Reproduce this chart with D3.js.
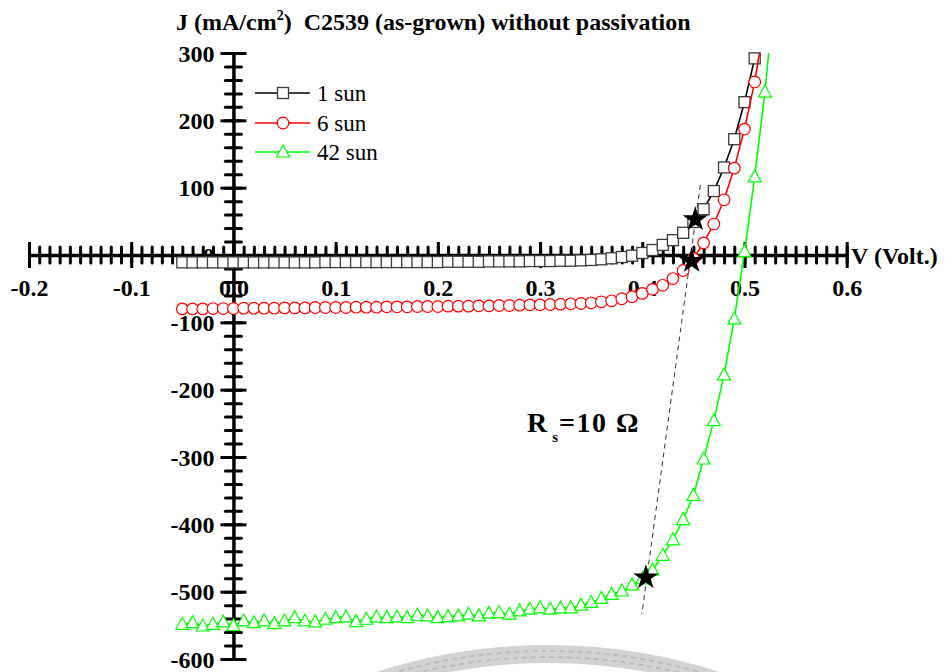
<!DOCTYPE html>
<html>
<head>
<meta charset="utf-8">
<script src="https://cdn.jsdelivr.net/npm/d3@7/dist/d3.min.js"></script>
<style>
  html, body { margin: 0; padding: 0; background: #fff; }
  svg { display: block; }
  text { font-family: "Liberation Serif", "Times New Roman", serif; }
</style>
</head>
<body>
<svg id="chart" width="945" height="672"></svg>
<script>
// ---------------- data ----------------
const vGrid = [-0.05,-0.04,-0.03,-0.02,-0.01,0.00,0.01,0.02,0.03,0.04,0.05,0.06,0.07,0.08,0.09,0.10,
  0.11,0.12,0.13,0.14,0.15,0.16,0.17,0.18,0.19,0.20,0.21,0.22,0.23,0.24,0.25,0.26,0.27,0.28,0.29,0.30,
  0.31,0.32,0.33,0.34,0.35,0.36,0.37,0.38,0.39,0.40,0.41,0.42,0.43,0.44,0.45,0.46,0.47,0.48,0.49,0.50,
  0.51,0.52,0.53];

const jOneSun = [-11,-11,-11,-11,-11,-11,-11,-11,-11,-11,-11,-11,-11,-11,-10.5,-10.5,
  -10.5,-10.5,-10.5,-10.5,-10.5,-10.5,-10.5,-10.5,-10.5,-10.5,-10,-10,-10,-10,-9.5,-9.5,-9.5,-9.5,-9,-9,
  -9,-8.5,-8.5,-8,-7.4,-6.4,-4.9,-3,-1,3,7.4,15,22,33,49,68,95,130,172,227,
  292,380];

const jSixSun = [-80,-80,-80,-79.5,-79.5,-79.5,-79,-79,-79,-79,-78.5,-78.5,-78.5,-78,-78,-78,
  -78,-77.5,-77.5,-77.5,-77,-77,-77,-76.5,-76.5,-76.5,-76,-76,-76,-75.5,-75.5,-75,-75,-74.5,-74,-74,
  -73.5,-73,-72.5,-72,-71,-69.5,-68,-65,-62,-57,-51,-45,-35,-23,-5,18,46,82,129,187,
  257,350];

const jFortyTwoSun = [-548.5,-546,-551,-548.5,-545,-550.5,-543.5,-546,-543.5,-547.5,-543.5,-538.5,-543.5,-545,-541,-538.5,
  -537.5,-544.5,-541,-537.5,-538.5,-537.5,-538.5,-535,-536,-538.5,-537,-536,-533.5,-536,-532,-531,-533.5,-528.5,-526,-524,
  -526,-524,-524,-520,-516,-510,-504,-499,-490,-481,-468,-446,-423,-393,-357,-303,-246,-178,-95,5,
  116,242,400];

const seriesNames = ["1 sun", "6 sun", "42 sun"];
const seriesColors = ["#000000", "#ff0000", "#00ff00"];
const markerStroke = ["#3a3a3a", "#ff0000", "#00ff00"];
const markerShapes = ["square", "circle", "triangle"];

const starV = [0.4519, 0.4483, 0.4035];
const starJ = [53, -9, -479];
const rsLineV = [0.4568, 0.3996];
const rsLineJ = [104, -533];

const xMajorTicks = [-0.2,-0.1,0.0,0.1,0.2,0.3,0.4,0.5,0.6];
const yMajorTicks = [300,200,100,0,-100,-200,-300,-400,-500,-600];

// ---------------- scales ----------------
const svg = d3.select("#chart");
const x = d3.scaleLinear().domain([-0.2, 0.6]).range([29, 846.7]);
const y = d3.scaleLinear().domain([-600, 300]).range([659, 53]);
const FONT = "'Liberation Serif','Times New Roman',serif";

// ---------------- watermark (seal, faint) ----------------
const wm = svg.append("g").attr("opacity", 0.5);
wm.append("path")
  .attr("d", d3.arc().innerRadius(543).outerRadius(561).startAngle(-0.32).endAngle(0.32)())
  .attr("transform", "translate(548,1206)")
  .attr("fill", "#a9a9a9");
wm.append("path")
  .attr("d", d3.arc().innerRadius(549).outerRadius(555).startAngle(-0.32).endAngle(0.32)())
  .attr("transform", "translate(548,1206)")
  .attr("fill", "none").attr("stroke", "#7d7d7d").attr("stroke-width", 2)
  .attr("stroke-dasharray", "5,4");

// ---------------- axes ----------------
const fmtX = d => d.toFixed(1);
const fmtY = d => String(d);
const axX = svg.append("g").attr("transform", `translate(0,${y(0)})`);
axX.append("g").call(d3.axisBottom(x).tickValues(d3.range(-20, 61).map(i => i / 100)).tickSize(8).tickSizeOuter(0).tickFormat(""))
  .call(g => g.select(".domain").remove())
  .call(g => g.selectAll(".tick line").attr("y1", -8).attr("stroke-width", 3).attr("stroke-linecap", "round"));
axX.append("g").call(d3.axisBottom(x).tickValues(xMajorTicks).tickSize(13).tickSizeOuter(0).tickFormat(fmtX))
  .call(g => g.select(".domain").attr("stroke-width", 3.5))
  .call(g => g.selectAll(".tick line").attr("y1", -13).attr("stroke-width", 3))
  .call(g => g.selectAll(".tick text").attr("y", 41).attr("dy", null)
      .attr("font-size", 24).attr("font-weight", "bold")
      .attr("font-family", FONT).attr("fill", "#000"));

const axY = svg.append("g").attr("transform", `translate(${x(0)},0)`);
axY.append("g").call(d3.axisLeft(y).tickValues(d3.range(-600, 301, 20)).tickSize(8).tickSizeOuter(0).tickFormat(""))
  .call(g => g.select(".domain").remove())
  .call(g => g.selectAll(".tick line").attr("x1", 8).attr("stroke-width", 3).attr("stroke-linecap", "round"));
axY.append("g").call(d3.axisLeft(y).tickValues(yMajorTicks).tickSize(13).tickSizeOuter(0).tickFormat(fmtY))
  .call(g => g.select(".domain").attr("stroke-width", 3.5))
  .call(g => g.selectAll(".tick line").attr("x1", 13).attr("stroke-width", 3))
  .call(g => g.selectAll(".tick text").attr("x", -19).attr("dy", "0.34em")
      .attr("font-size", 24).attr("font-weight", "bold")
      .attr("font-family", FONT).attr("fill", "#000"));

// axis titles
const title = svg.append("text").attr("x", 176).attr("y", 30)
  .attr("font-size", 24).attr("font-weight", "bold").attr("fill", "#000")
  .style("white-space", "pre");
title.append("tspan").text("J (mA/cm");
title.append("tspan").attr("font-size", 14).attr("dy", -10).text("2");
title.append("tspan").attr("dy", 10).text(")  C2539 (as-grown) without passivation");

svg.append("text").attr("x", 851).attr("y", y(0) + 9)
  .attr("font-size", 24).attr("font-weight", "bold").attr("fill", "#000")
  .text("V (Volt.)");

// ---------------- series ----------------
svg.append("defs").append("clipPath").attr("id", "plotClip")
  .append("rect").attr("x", 0).attr("y", y(300)).attr("width", 945).attr("height", 672 - y(300));

const allJ = [jOneSun, jSixSun, jFortyTwoSun];
const line = d3.line().x(d => x(d[0])).y(d => y(d[1]));

function drawMarker(g, shape, cx, cy, stroke) {
  if (shape === "square") {
    g.append("rect").attr("x", cx - 5.5).attr("y", cy - 5.5).attr("width", 11).attr("height", 11)
      .attr("fill", "#fff").attr("stroke", stroke).attr("stroke-width", 1.3);
  } else if (shape === "circle") {
    g.append("circle").attr("cx", cx).attr("cy", cy).attr("r", 5.8)
      .attr("fill", "#fff").attr("stroke", stroke).attr("stroke-width", 1.2);
  } else {
    g.append("path").attr("d", `M${cx},${cy - 7} L${cx + 6.5},${cy + 5} L${cx - 6.5},${cy + 5} Z`)
      .attr("fill", "#fff").attr("stroke", stroke).attr("stroke-width", 1.2);
  }
}

allJ.forEach((js, i) => {
  const pts = js.map((j, k) => [vGrid[k], j]);
  const g = svg.append("g");
  g.append("path").attr("d", line(pts)).attr("fill", "none")
    .attr("stroke", seriesColors[i]).attr("stroke-width", 1.6)
    .attr("clip-path", "url(#plotClip)");
  pts.filter(p => p[1] <= 300).forEach(p => drawMarker(g, markerShapes[i], x(p[0]), y(p[1]), markerStroke[i]));
});

// Rs guide line
svg.append("line")
  .attr("x1", x(rsLineV[0])).attr("y1", y(rsLineJ[0]))
  .attr("x2", x(rsLineV[1])).attr("y2", y(rsLineJ[1]))
  .attr("stroke", "#333").attr("stroke-width", 1).attr("stroke-dasharray", "5,4");

// stars
starV.forEach((v, i) => {
  svg.append("path").attr("d", d3.symbol().type(d3.symbolStar).size(200)())
    .attr("transform", `translate(${x(v)},${y(starJ[i])})`).attr("fill", "#000");
});

// Rs label
const rs = svg.append("text").attr("x", 527).attr("y", 432)
  .attr("font-size", 28).attr("font-weight", "bold").attr("fill", "#000")
  .style("white-space", "pre");
rs.append("tspan").text("R");
rs.append("tspan").attr("font-size", 15).attr("dx", 5).attr("dy", 10).text("s");
rs.append("tspan").attr("dx", 1).attr("dy", -10).attr("letter-spacing", 1.5).text("=10 Ω");

// ---------------- legend ----------------
const legY = [93, 123, 152];
seriesNames.forEach((name, i) => {
  const g = svg.append("g");
  g.append("line").attr("x1", 255).attr("x2", 310).attr("y1", legY[i]).attr("y2", legY[i])
    .attr("stroke", seriesColors[i]).attr("stroke-width", 1.6);
  drawMarker(g, markerShapes[i], 283, legY[i], markerStroke[i]);
  g.append("text").attr("x", 317).attr("y", legY[i] + 8).attr("font-size", 23).attr("fill", "#000").text(name);
});
</script>
</body>
</html>
